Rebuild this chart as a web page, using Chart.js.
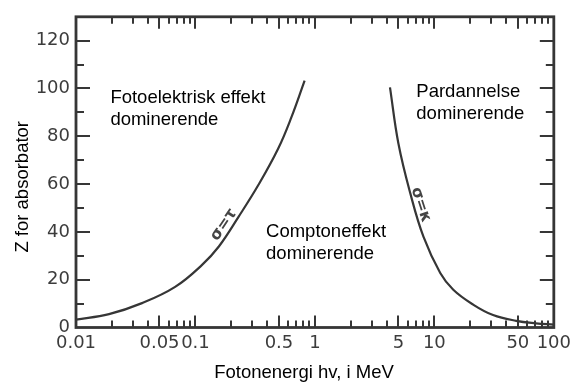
<!DOCTYPE html>
<html><head><meta charset="utf-8">
<script src="https://cdn.jsdelivr.net/npm/chart.js@4"></script>
<style>html,body{margin:0;padding:0;background:#fff}canvas{display:block}</style>
</head><body>
<canvas id="c" width="576" height="385"></canvas>
<script>
// ---- data ----
const photoE = [0.01, 0.0189, 0.0357, 0.0676, 0.1125, 0.157, 0.23, 0.336, 0.493, 0.636, 0.82];
const photoZ = [3.3, 5.6, 10.2, 17, 26, 33.9, 46.4, 59.6, 74.9, 88, 103.3];
const pairE = [4.25, 5.0, 6.3, 8.1, 11.2, 14.4, 21.1, 31, 48.4, 70.8, 100];
const pairZ = [100.5, 77, 56, 38, 22.8, 15.8, 9.6, 5.2, 2.8, 1.75, 1.2];

const xTickLabels = ['0.01', '0.05', '0.1', '0.5', '1', '5', '10', '50', '100'];
const xDecades = [0.01, 0.1, 1, 10];
const xMantissas = [1, 2, 3, 4, 5, 6, 7, 8, 9];
const yTickLabels = ['0', '20', '40', '60', '80', '100', '120'];

const regionLabels = [
  { lines: ['Fotoelektrisk effekt', 'dominerende'], x: 0.0194, y: 94.0 },
  { lines: ['Comptoneffekt', 'dominerende'], x: 0.39, y: 37.8 },
  { lines: ['Pardannelse', 'dominerende'], x: 7.06, y: 96.4 }
];
const curveLabels = [
  { text: 'σ=τ', x: 0.172, y: 43.0, angle: -56 },
  { text: 'σ=κ', x: 7.7, y: 51.3, angle: 72 }
];
const xTitle = 'Fotonenergi hv, i MeV';
const yTitle = 'Z for absorbator';

// ---- build ----
const xTickValues = [];
xDecades.forEach(d => xMantissas.forEach(m => xTickValues.push(+(m * d).toPrecision(6))));
xTickValues.push(100);
const labelFor = v => {
  const f = xTickLabels.find(s => Math.abs(parseFloat(s) - v) < 1e-9 * Math.max(1, v));
  return f === undefined ? '' : f;
};
const isMajorX = v => labelFor(v) !== '' || Math.abs(Math.round(v / Math.pow(10, Math.floor(Math.log10(v) + 1e-9))) - 1) < 1e-9;

const LINE = '#363636';
const framePlugin = {
  id: 'frame',
  afterDraw(chart) {
    const { ctx, chartArea: a, scales: { x, y } } = chart;
    ctx.save();
    ctx.strokeStyle = LINE;
    ctx.lineWidth = 2.8;
    ctx.strokeRect(a.left, a.top, a.right - a.left, a.bottom - a.top);
    ctx.lineWidth = 2;
    ctx.beginPath();
    xTickValues.forEach(v => {
      if (v <= 0.01 || v >= 100) return;
      const px = Math.round(x.getPixelForValue(v));
      const len = isMajorX(v) ? 12 : 7;
      ctx.moveTo(px, a.bottom); ctx.lineTo(px, a.bottom - len);
      ctx.moveTo(px, a.top); ctx.lineTo(px, a.top + len);
    });
    for (let v = 10; v <= 120; v += 10) {
      const py = Math.round(y.getPixelForValue(v));
      const len = v % 20 === 0 ? 14 : 8;
      ctx.moveTo(a.left, py); ctx.lineTo(a.left + len, py);
      ctx.moveTo(a.right, py); ctx.lineTo(a.right - len, py);
    }
    ctx.stroke();

    // region texts
    ctx.fillStyle = '#000';
    ctx.font = '18.5px "Liberation Sans", Arial, sans-serif';
    ctx.textAlign = 'left';
    ctx.textBaseline = 'alphabetic';
    regionLabels.forEach(r => {
      const px = x.getPixelForValue(r.x), py = y.getPixelForValue(r.y);
      r.lines.forEach((t, i) => ctx.fillText(t, px, py + i * 21.8));
    });
    // curve labels
    ctx.fillStyle = '#444';
    ctx.font = 'bold 15.5px "DejaVu Sans", sans-serif';
    ctx.textAlign = 'center';
    ctx.textBaseline = 'middle';
    curveLabels.forEach(c => {
      ctx.save();
      ctx.translate(x.getPixelForValue(c.x), y.getPixelForValue(c.y));
      ctx.rotate(c.angle * Math.PI / 180);
      ctx.fillText(c.text, 0, 0);
      ctx.restore();
    });
    // axis titles
    ctx.fillStyle = '#000';
    ctx.font = '18.5px "Liberation Sans", Arial, sans-serif';
    ctx.textAlign = 'center';
    ctx.textBaseline = 'alphabetic';
    ctx.fillText(xTitle, a.left + 228, 378);
    ctx.save();
    ctx.translate(28, a.top + 170);
    ctx.rotate(-Math.PI / 2);
    ctx.fillText(yTitle, 0, 0);
    ctx.restore();
    ctx.restore();
  }
};

const bgPlugin = {
  id: 'bg',
  beforeDraw(chart) {
    const ctx = chart.ctx;
    ctx.save(); ctx.fillStyle = '#fff'; ctx.fillRect(0, 0, chart.width, chart.height); ctx.restore();
  }
};

const tickFont = { family: '"DejaVu Sans", sans-serif', size: 18 };
new Chart(document.getElementById('c'), {
  type: 'scatter',
  data: {
    datasets: [
      { data: photoE.map((v, i) => ({ x: v, y: photoZ[i] })), showLine: true, borderColor: LINE, borderWidth: 2.2, pointRadius: 0, tension: 0.4, fill: false },
      { data: pairE.map((v, i) => ({ x: v, y: pairZ[i] })), showLine: true, borderColor: LINE, borderWidth: 2.2, pointRadius: 0, tension: 0.4, fill: false }
    ]
  },
  options: {
    responsive: false, animation: false, devicePixelRatio: 1,
    layout: { padding: { top: 13, right: 18, left: 0, bottom: 0 } },
    plugins: { legend: { display: false }, tooltip: { enabled: false } },
    scales: {
      x: {
        type: 'logarithmic', min: 0.01, max: 100,
        grid: { display: false, drawTicks: false }, border: { display: false },
        afterBuildTicks: s => { s.ticks = xTickValues.map(v => ({ value: v })); },
        afterFit: s => { s.height = 57.5; },
        ticks: { autoSkip: false, maxRotation: 0, minRotation: 0, padding: 5, font: tickFont, color: '#3c3c3c', callback: v => labelFor(v) }
      },
      y: {
        type: 'linear', min: 0, max: 130,
        grid: { display: false, drawTicks: false }, border: { display: false },
        afterFit: s => { s.width = 76; },
        ticks: { stepSize: 10, padding: 6, font: tickFont, color: '#3c3c3c', callback: v => (yTickLabels.includes(String(v)) ? String(v) : '') }
      }
    }
  },
  plugins: [bgPlugin, framePlugin]
});
</script>
</body></html>
